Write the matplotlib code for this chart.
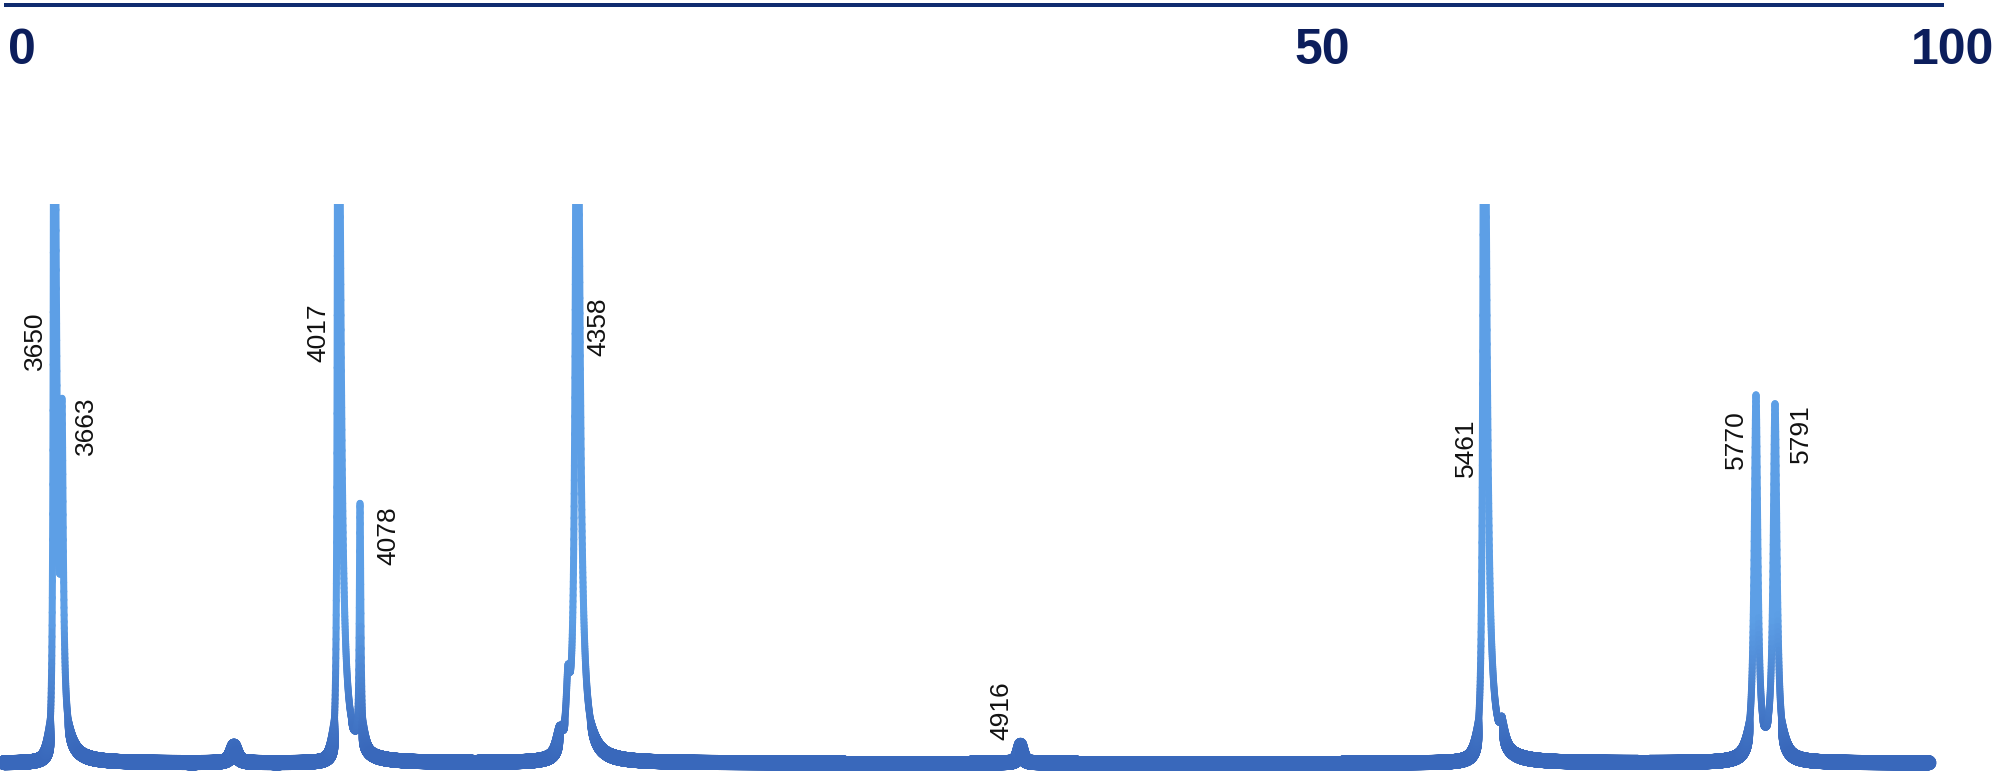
import numpy as np
import matplotlib
matplotlib.use("Agg")
import matplotlib.pyplot as plt
from matplotlib.collections import LineCollection
from matplotlib.colors import to_rgb

# ---------------- data ----------------
# Hg emission lines: label (Angstrom), chart position (mm), peak height (% of full scale)
line_labels = ["3650", "3663", "4017", "4078", "4358", "4916", "5461", "5770", "5791"]
line_pos = [5.40, 6.20, 33.80, 36.00, 57.70, 102.05, 148.40, 175.60, 177.50]
line_height = [160.0, 51.0, 160.0, 43.5, 160.0, 3.4, 160.0, 65.0, 63.4]
line_gamma_left = [0.08, 0.10, 0.08, 0.08, 0.18, 0.20, 0.12, 0.22, 0.22]
line_gamma_right = [0.25, 0.15, 0.30, 0.10, 0.30, 0.20, 0.30, 0.22, 0.24]

# small unlabelled features (position mm, height %, half width mm)
extra_pos = [23.4, 56.0, 56.8, 150.2]
extra_height = [3.2, 4.0, 11.0, 4.0]
extra_gamma = [0.30, 0.25, 0.22, 0.20]

scan_start, scan_end = 0.4, 192.9

ruler_labels = ["0", "50", "100"]

# ---------------- layout ----------------
W, H, DPI = 2003, 779, 100
ruler_label_x_px = [22, 1322, 1953]
label_dx_px = [-12, 31, -13, 35, 28, -12.5, -11, -13, 33]
label_y = [75.5, 60.3, 76.9, 40.6, 78.0, 9.3, 56.4, 57.8, 58.9]

fig = plt.figure(figsize=(W / DPI, H / DPI), dpi=DPI)
fig.patch.set_facecolor("white")

# main spectrum axes
ax_top_px = 204
ax = fig.add_axes([0, 0, 1, (H - ax_top_px) / H])
ax.set_axis_off()
ax.set_xlim(0, W / 10)
px_per_unit = (763 - ax_top_px) / 100.0
ax.set_ylim(-(H - 763) / px_per_unit, 100)

x = np.arange(scan_start, scan_end, 0.01)
y = np.zeros_like(x)
for x0, h, gl, gr in zip(line_pos, line_height, line_gamma_left, line_gamma_right):
    g = np.where(x < x0, gl, gr)
    y += h * g ** 2 / ((x - x0) ** 2 + g ** 2)
for x0, h, g in zip(extra_pos, extra_height, extra_gamma):
    y += h * g ** 2 / ((x - x0) ** 2 + g ** 2)

pts = np.column_stack([x, y])
segs = np.stack([pts[:-1], pts[1:]], axis=1)
ym = 0.5 * (y[:-1] + y[1:])
t_w = np.clip((ym - 1.0) / 7.0, 0, 1)
lw_px = 15.0 - 8.0 * t_w
dark = np.array(to_rgb("#3968bb"))
light = np.array(to_rgb("#5d9fe6"))
t_c = np.clip((ym - 1.5) / 25.0, 0, 1)[:, None]
cols = dark * (1 - t_c) + light * t_c
lc = LineCollection(segs, linewidths=lw_px * 72 / DPI, colors=cols,
                    capstyle="round", joinstyle="round")
ax.add_collection(lc)

for lab, x0, dx, yl in zip(line_labels, line_pos, label_dx_px, label_y):
    ax.annotate(lab, xy=(x0, yl), xytext=(dx * 72 / DPI, 0),
                textcoords="offset points", rotation=90,
                rotation_mode="anchor", ha="center", va="baseline",
                fontsize=19, family=["Liberation Sans", "DejaVu Sans"],
                color="#111111", annotation_clip=False)

# top ruler
rax = fig.add_axes([0, (H - 100) / H, 1, 100 / H])
rax.set_axis_off()
rax.set_xlim(0, W)
rax.set_ylim(100, 0)
rax.axhline(5, xmin=6 / W, xmax=1942 / W, color="#0f2b6f", lw=4 * 72 / DPI)
for lab, xp in zip(ruler_labels, ruler_label_x_px):
    rax.text(xp, 64.5, lab, ha="center", va="baseline", fontsize=36,
             fontweight="bold", family=["Liberation Sans", "DejaVu Sans"],
             color="#0c1e5c")

fig.savefig("out.png", dpi=DPI, facecolor="white")
